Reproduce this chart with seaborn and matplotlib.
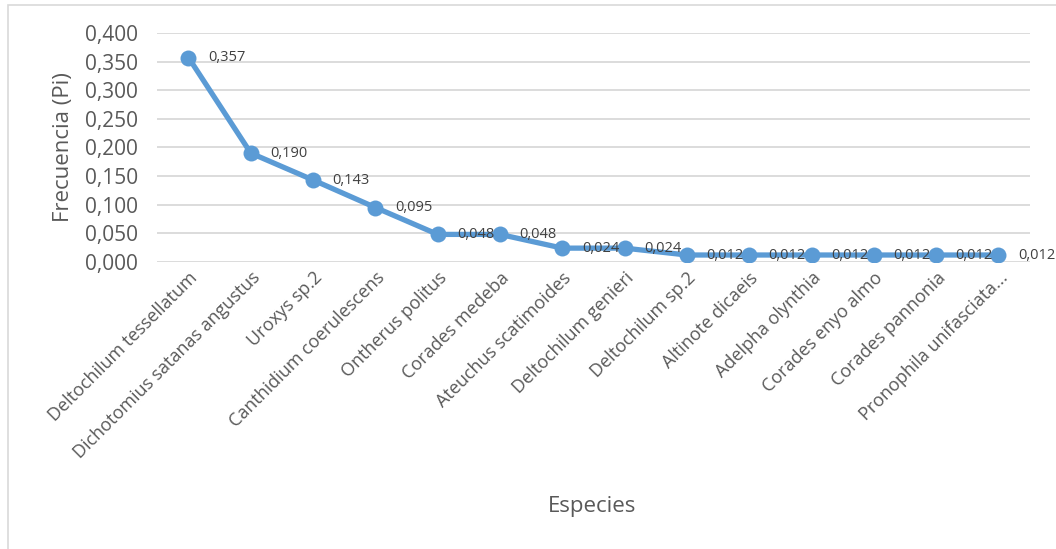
import numpy as np
import pandas as pd
import matplotlib
matplotlib.use("Agg")
import matplotlib.pyplot as plt
import matplotlib.ticker as mticker
from matplotlib.patches import Rectangle
import seaborn as sns

# datos
especies = [
    "Deltochilum tessellatum", "Dichotomius satanas angustus", "Uroxys sp.2",
    "Canthidium coerulescens", "Ontherus politus", "Corades medeba",
    "Ateuchus scatimoides", "Deltochilum genieri", "Deltochilum sp.2",
    "Altinote dicaeis", "Adelpha olynthia", "Corades enyo almo",
    "Corades pannonia", "Pronophila unifasciata...",
]
frecuencia = [0.357, 0.190, 0.143, 0.095, 0.048, 0.048, 0.024, 0.024,
              0.012, 0.012, 0.012, 0.012, 0.012, 0.012]
y_ticks = [0.0, 0.05, 0.10, 0.15, 0.20, 0.25, 0.30, 0.35, 0.40]

sns.set_style("white")
plt.rcParams["font.family"] = ["Open Sans", "DejaVu Sans"]
TXT = "#595959"
BLUE = "#5B9BD5"

df = pd.DataFrame({"Especies": especies, "Pi": frecuencia})

fig = plt.figure(figsize=(10.56, 5.49), dpi=100)
ax = fig.add_axes([0.149, 0.523, 0.826, 0.417])

sns.lineplot(data=df, x="Especies", y="Pi", ax=ax, color=BLUE, linewidth=3.8,
             marker="o", markersize=11.5, markeredgewidth=0, sort=False)

for i, v in enumerate(frecuencia):
    ax.annotate(f"{v:.3f}".replace(".", ","), (i, v), xytext=(14, 0),
                textcoords="offset points", ha="left", va="center",
                fontsize=10.5, color="#404040")

ax.set_xlim(-0.5, len(especies) - 0.5)
ax.set_ylim(0, 0.4)
ax.set_yticks(y_ticks)
ax.yaxis.set_major_formatter(mticker.FuncFormatter(lambda v, p: f"{v:.3f}".replace(".", ",")))
ax.grid(axis="y", color="#D9D9D9", linewidth=1.3)
ax.set_axisbelow(True)
for s in ax.spines.values():
    s.set_visible(False)
ax.tick_params(axis="both", length=0, colors=TXT)
ax.tick_params(axis="y", labelsize=15, pad=14)
ax.set_xticks(range(len(especies)))
ax.set_xticklabels(especies, rotation=45, ha="right", rotation_mode="anchor",
                   fontsize=13, color=TXT)
ax.tick_params(axis="x", pad=5)

ax.set_ylabel("Frecuencia (Pi)", fontsize=16, color=TXT, labelpad=8)
ax.set_xlabel("")
fig.text(0.561, 0.077, "Especies", ha="center", va="center", fontsize=16, color=TXT)

fig.patches.append(Rectangle((0.008, -0.01), 1.1, 1.0, transform=fig.transFigure,
                             fill=False, edgecolor="#D9D9D9", linewidth=1.2))

fig.savefig("out.png", dpi=100)
